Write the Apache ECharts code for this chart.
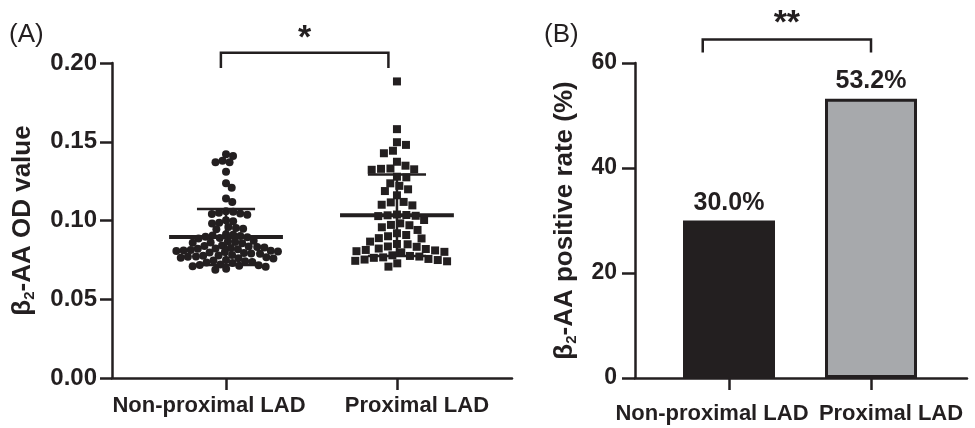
<!DOCTYPE html>
<html>
<head>
<meta charset="utf-8">
<script src="https://cdn.jsdelivr.net/npm/echarts@6/dist/echarts.min.js"></script>
<style>
html, body { margin: 0; padding: 0; background: #fff; }
#main { width: 975px; height: 428px; }
</style>
</head>
<body>
<div id="main"></div>
<script>
var groupNames = ['Non-proximal LAD', 'Proximal LAD'];

// (A) OD values
var nonProximalOD = [
    0.142, 0.141, 0.138, 0.137, 0.137, 0.131, 0.1236, 0.1208, 0.114, 0.1117,
    0.1055, 0.1041, 0.1049, 0.1036, 0.1058, 0.1044,
    0.1001, 0.0986, 0.0995, 0.0981,
    0.0958, 0.0947, 0.0953, 0.0944,
    0.0912, 0.0893, 0.0905, 0.0889, 0.0909, 0.0897, 0.0901, 0.0886,
    0.0868, 0.0859, 0.0864, 0.0855, 0.0871, 0.0861,
    0.0838, 0.0822, 0.0831, 0.0817, 0.0835, 0.0826, 0.0842, 0.0820, 0.0829,
    0.0808, 0.0793, 0.0812, 0.0789, 0.0803, 0.0797, 0.0806, 0.0791, 0.0800, 0.0810,
    0.0778, 0.0763, 0.0781, 0.0760, 0.0772, 0.0767, 0.0776, 0.0758, 0.0770,
    0.0746, 0.0733, 0.0742, 0.0737, 0.0749, 0.0730,
    0.0718, 0.0709, 0.0716, 0.0712, 0.0721, 0.0706,
    0.0694, 0.0688
];
var proximalOD = [
    0.1883, 0.158, 0.1497, 0.148, 0.1443, 0.1427, 0.1373, 0.1348,
    0.1330, 0.1325, 0.1328, 0.1322, 0.1278, 0.1274,
    0.1236, 0.1220, 0.1198, 0.1187, 0.1160, 0.1118, 0.1115, 0.1100, 0.1096,
    0.1035, 0.1030, 0.1038, 0.1028, 0.1033,
    0.1003, 0.0982, 0.0972, 0.0970, 0.0957, 0.0940, 0.0919, 0.0908, 0.0900,
    0.0888, 0.0886, 0.0866, 0.0851, 0.0849, 0.0835, 0.0833,
    0.0822, 0.0813, 0.0819, 0.0810, 0.0805, 0.0798, 0.0801,
    0.0775, 0.0766, 0.0771, 0.0779, 0.0763,
    0.0752, 0.0744, 0.0749, 0.0756, 0.0741,
    0.0728, 0.0707
];
var odMean = [0.0895, 0.1033];
var odSD = [0.0178, 0.0259];

// (B) positive rate
var positiveRate = [30.0, 53.2];
var barColors = ['#231f20', '#a7a9ac'];

var font = 'Liberation Sans, Arial, sans-serif';
var ink = '#231f20';

var chart = echarts.init(document.getElementById('main'));

function xAxisOpt(gi, min, max, margin) {
    return {
        type: 'value', gridIndex: gi, min: min, max: max,
        splitLine: { show: false },
        axisLine: { onZero: false, lineStyle: { color: ink, width: 2.5 } },
        axisTick: { customValues: [0, 1], length: 12, lineStyle: { color: ink, width: 2.5 } },
        axisLabel: {
            customValues: [0, 1], margin: margin, hideOverlap: false,
            color: ink, fontFamily: font, fontWeight: 'bold', fontSize: 22,
            formatter: function (v) {
                return Math.round(v) === 0 ? '{l|' + groupNames[0] + '}' : '{r|' + groupNames[1] + '}';
            },
            rich: {
                l: { fontFamily: font, fontWeight: 'bold', fontSize: 22, color: ink, padding: [0, 34, 0, 0] },
                r: { fontFamily: font, fontWeight: 'bold', fontSize: 22, color: ink, padding: [0, 0, 0, 40] }
            }
        }
    };
}

function titleRich() {
    return {
        t: { fontSize: 26, fontWeight: 'bold', fontFamily: font, color: ink, lineHeight: 27, verticalAlign: 'top' },
        s: { fontSize: 15, fontWeight: 'bold', fontFamily: font, color: ink, lineHeight: 16, verticalAlign: 'bottom', padding: [15, 0, 0, 0] }
    };
}

var option = {
    animation: false,
    backgroundColor: '#fff',
    grid: [
        { left: 112, right: 463, top: 63, bottom: 50 },
        { left: 635, right: 8, top: 63, bottom: 50 }
    ],
    xAxis: [xAxisOpt(0, -0.667, 1.673, 17), xAxisOpt(1, -0.662, 1.676, 25)],
    yAxis: [
        {
            type: 'value', gridIndex: 0, min: 0, max: 0.2, interval: 0.05,
            splitLine: { show: false },
            axisLine: { show: true, onZero: false, lineStyle: { color: ink, width: 2.5 } },
            axisTick: { show: true, length: 12, lineStyle: { color: ink, width: 2.5 } },
            axisLabel: {
                margin: 15, color: ink, fontFamily: font, fontWeight: 'bold', fontSize: 24,
                formatter: function (v) { return v.toFixed(2); }
            },
            name: '{t|β}{s|2}{t|-AA OD value}',
            nameLocation: 'middle', nameGap: 75,
            nameTextStyle: { rich: titleRich() }
        },
        {
            type: 'value', gridIndex: 1, min: 0, max: 60, interval: 20,
            splitLine: { show: false },
            axisLine: { show: true, onZero: false, lineStyle: { color: ink, width: 2.5 } },
            axisTick: { show: true, length: 13, lineStyle: { color: ink, width: 2.5 } },
            axisLabel: { margin: 18, color: ink, fontFamily: font, fontWeight: 'bold', fontSize: 23 },
            name: '{t|β}{s|2}{t|-AA positive rate (%)}',
            nameLocation: 'middle', nameGap: 56,
            nameTextStyle: { rich: titleRich() }
        }
    ],
    series: []
};
chart.setOption(option);

// beeswarm spread computed in pixel space from the axis scales
function swarm(values, gx, D) {
    var cx = chart.convertToPixel({ gridIndex: 0 }, [gx, 0])[0];
    var pts = values.map(function (v) {
        return { v: v, py: chart.convertToPixel({ gridIndex: 0 }, [gx, v])[1], dx: 0 };
    });
    pts.sort(function (a, b) { return a.py - b.py; });
    var placed = [];
    pts.forEach(function (p) {
        var cands = [0];
        placed.forEach(function (q) {
            var dy = p.py - q.py;
            if (Math.abs(dy) < D) {
                var d = Math.sqrt(D * D - dy * dy);
                cands.push(q.dx + d, q.dx - d);
            }
        });
        cands.sort(function (a, b) { return Math.abs(a) - Math.abs(b); });
        for (var i = 0; i < cands.length; i++) {
            var ok = true;
            for (var j = 0; j < placed.length; j++) {
                var q = placed[j];
                var ddx = cands[i] - q.dx, ddy = p.py - q.py;
                if (ddx * ddx + ddy * ddy < D * D - 0.01) { ok = false; break; }
            }
            if (ok) { p.dx = cands[i]; break; }
        }
        placed.push(p);
    });
    return pts.map(function (p) {
        return [chart.convertFromPixel({ gridIndex: 0 }, [cx + p.dx, p.py])[0], p.v];
    });
}

var meanSdData = odMean.map(function (m, i) { return [i, m, odSD[i]]; });

function px(gi, pt) { return chart.convertToPixel({ gridIndex: gi }, pt); }

function bracket(gi, x0, x1, yTop, yLeg, stars, starOffset) {
    var a = px(gi, [x0, yLeg]), b = px(gi, [x0, yTop]), c = px(gi, [x1, yTop]), d = px(gi, [x1, yLeg]);
    return [
        { type: 'polyline', shape: { points: [a, b, c, d] }, style: { stroke: ink, lineWidth: 2.5, fill: null }, z: 10 },
        {
            type: 'text', x: (b[0] + c[0]) / 2, y: b[1] - starOffset, z: 10,
            style: { text: stars, fill: ink, font: 'bold 34px ' + font, align: 'center', verticalAlign: 'middle' }
        }
    ];
}

chart.setOption({
    series: [
        {
            type: 'scatter', xAxisIndex: 0, yAxisIndex: 0, symbol: 'circle', symbolSize: 8,
            itemStyle: { color: ink, opacity: 1 }, data: swarm(nonProximalOD, 0, 7.2)
        },
        {
            type: 'scatter', xAxisIndex: 0, yAxisIndex: 0, symbol: 'rect', symbolSize: 8,
            itemStyle: { color: ink, opacity: 1 }, data: swarm(proximalOD, 1, 9.4)
        },
        {
            type: 'custom', xAxisIndex: 0, yAxisIndex: 0, z: 5,
            renderItem: function (params, api) {
                var g = api.value(0), m = api.value(1), sd = api.value(2);
                var ln = function (p0, p1, w) {
                    return { type: 'line', shape: { x1: p0[0], y1: p0[1], x2: p1[0], y2: p1[1] }, style: { stroke: ink, lineWidth: w } };
                };
                return {
                    type: 'group',
                    children: [
                        ln(api.coord([g - 0.333, m]), api.coord([g + 0.333, m]), 4),
                        ln(api.coord([g, m - sd]), api.coord([g, m + sd]), 2.5),
                        ln(api.coord([g - 0.17, m + sd]), api.coord([g + 0.17, m + sd]), 2.5),
                        ln(api.coord([g - 0.17, m - sd]), api.coord([g + 0.17, m - sd]), 2.5)
                    ]
                };
            },
            data: meanSdData
        },
        {
            type: 'bar', xAxisIndex: 1, yAxisIndex: 1, barWidth: 92,
            data: positiveRate.map(function (v, i) {
                return { value: [i, v], itemStyle: { color: barColors[i], borderColor: ink, borderWidth: 3 } };
            }),
            label: {
                show: true, position: 'top', distance: 5,
                color: ink, fontFamily: font, fontWeight: 'bold', fontSize: 25,
                formatter: function (p) { return p.value[1].toFixed(1) + '%'; }
            }
        }
    ],
    graphic: [
        { type: 'text', x: 9, y: 22, style: { text: '(A)', fill: ink, font: '26px ' + font } },
        { type: 'text', x: 544, y: 22, style: { text: '(B)', fill: ink, font: '26px ' + font } }
    ].concat(
        bracket(0, -0.03, 0.95, 0.2065, 0.1968, '*', 14),
        bracket(1, -0.185, 1.0, 64.5, 62.0, '**', 16)
    )
});
</script>
</body>
</html>
